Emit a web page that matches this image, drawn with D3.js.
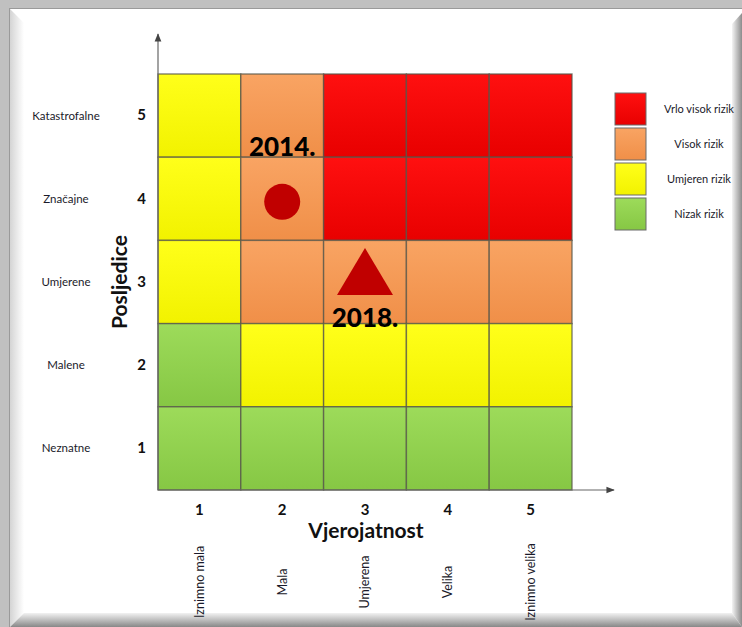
<!DOCTYPE html>
<html>
<head>
<meta charset="utf-8">
<script src="https://cdn.jsdelivr.net/npm/d3@7"></script>
<style>
  html, body { margin: 0; padding: 0; background: #c0c0c0; }
  svg { display: block; }
</style>
</head>
<body>
<main></main>
<script>
const W = 742, H = 627;
const FONT = "Lato, 'Open Sans', sans-serif";

// Data
const probabilities = [1, 2, 3, 4, 5];
const probLabels = ["Iznimno mala", "Mala", "Umjerena", "Velika", "Iznimno velika"];
const consequences = [5, 4, 3, 2, 1];
const consLabels = ["Katastrofalne", "Značajne", "Umjerene", "Malene", "Neznatne"];
// risk level per row (consequence 5 -> 1), per column (probability 1 -> 5)
// 0 = nizak, 1 = umjeren, 2 = visok, 3 = vrlo visok
const riskRows = [
  [1, 2, 3, 3, 3],
  [1, 2, 3, 3, 3],
  [1, 2, 2, 2, 2],
  [0, 1, 1, 1, 1],
  [0, 0, 0, 0, 0]
];
const legendLabels = ["Vrlo visok rizik", "Visok rizik", "Umjeren rizik", "Nizak rizik"];
const legendLevels = [3, 2, 1, 0];
const years = ["2014.", "2018."];
const yearProb = [2, 3];
const yearCons = [4, 3];
const yearShape = ["circle", "triangle"];

const levelColors = [
  ["#9ddb5a", "#86c744"],
  ["#ffff1a", "#f2f200"],
  ["#f9a463", "#f08f48"],
  ["#ff1010", "#e80000"]
];

const svg = d3.create("svg").attr("width", W).attr("height", H);
const defs = svg.append("defs");

levelColors.forEach((c, i) => {
  const g = defs.append("linearGradient").attr("id", "lv" + i)
    .attr("x1", 0).attr("y1", 0).attr("x2", 0).attr("y2", 1);
  g.append("stop").attr("offset", 0).attr("stop-color", c[0]);
  g.append("stop").attr("offset", 1).attr("stop-color", c[1]);
});

function grad(id, x2, y2, c0, c1) {
  const g = defs.append("linearGradient").attr("id", id)
    .attr("x1", 0).attr("y1", 0).attr("x2", x2).attr("y2", y2);
  g.append("stop").attr("offset", 0).attr("stop-color", c0);
  g.append("stop").attr("offset", 1).attr("stop-color", c1);
}
grad("bevL", 1, 0, "#d4d4d4", "#ffffff");
grad("bevR", 1, 0, "#f4f4f4", "#8c8c8c");
grad("bevB", 0, 1, "#f2f2f2", "#888888");

defs.append("marker")
  .attr("id", "arrow")
  .attr("viewBox", "0 0 10 10")
  .attr("refX", 9).attr("refY", 5)
  .attr("markerWidth", 7).attr("markerHeight", 7)
  .attr("orient", "auto")
  .append("path")
  .attr("d", "M0,1 L10,5 L0,9 Z")
  .attr("fill", "#444");

// frame
svg.append("rect").attr("width", W).attr("height", H).attr("fill", "#c0c0c0");
svg.append("rect").attr("x", 9.5).attr("y", 8.5).attr("width", W).attr("height", H)
  .attr("fill", "#fff").attr("stroke", "#9a9a9a");
svg.append("path").attr("d", "M10,9 L24,23 L24,613 L10,627 Z").attr("fill", "url(#bevL)");
svg.append("path").attr("d", "M742,13 L732,24 L732,613 L742,627 Z").attr("fill", "url(#bevR)");
svg.append("path").attr("d", "M10,627 L24,613 L732,613 L742,627 Z").attr("fill", "url(#bevB)");

// scales
const x = d3.scaleBand().domain(probabilities).range([158, 572]);
const y = d3.scaleBand().domain(consequences).range([74, 490]);

// cells
const cells = [];
riskRows.forEach((row, ri) => row.forEach((lv, ci) => {
  cells.push({ p: probabilities[ci], c: consequences[ri], lv });
}));

svg.append("g").selectAll("rect").data(cells).join("rect")
  .attr("x", d => x(d.p)).attr("y", d => y(d.c))
  .attr("width", x.bandwidth()).attr("height", y.bandwidth())
  .attr("fill", d => "url(#lv" + d.lv + ")")
  .attr("stroke", "#55554a").attr("stroke-opacity", 0.75).attr("stroke-width", 1.4);

// axis arrows
svg.append("line").attr("x1", 158).attr("y1", 490).attr("x2", 158).attr("y2", 34)
  .attr("stroke", "#666").attr("stroke-width", 1.2).attr("marker-end", "url(#arrow)");
svg.append("line").attr("x1", 158).attr("y1", 490).attr("x2", 614).attr("y2", 490)
  .attr("stroke", "#666").attr("stroke-width", 1.2).attr("marker-end", "url(#arrow)");

// axis numbers
const xAxis = svg.append("g").attr("transform", "translate(0,498)")
  .call(d3.axisBottom(x).tickSize(0).tickPadding(6));
xAxis.select(".domain").remove();
xAxis.selectAll("text").attr("font-family", FONT).attr("font-size", 15)
  .attr("font-weight", "bold").attr("fill", "#111");

const yAxis = svg.append("g").attr("transform", "translate(146,0)")
  .call(d3.axisLeft(y).tickSize(0).tickPadding(0));
yAxis.select(".domain").remove();
yAxis.selectAll("text").attr("font-family", FONT).attr("font-size", 15)
  .attr("font-weight", "bold").attr("fill", "#111");

// category labels
svg.append("g").selectAll("text").data(consLabels).join("text")
  .attr("x", 66).attr("y", (d, i) => y(consequences[i]) + y.bandwidth() / 2)
  .attr("dy", "0.35em").attr("text-anchor", "middle")
  .attr("font-family", FONT).attr("font-size", 11.5).attr("fill", "#1a1a2a")
  .text(d => d);

svg.append("g").selectAll("text").data(probLabels).join("text")
  .attr("transform", (d, i) =>
    `translate(${x(probabilities[i]) + x.bandwidth() / 2},582) rotate(-90)`)
  .attr("dy", "0.35em").attr("text-anchor", "middle")
  .attr("font-family", FONT).attr("font-size", 12.5).attr("fill", "#1a1a2a")
  .text(d => d);

// axis titles
svg.append("text").attr("x", 366).attr("y", 538).attr("text-anchor", "middle")
  .attr("font-family", FONT).attr("font-size", 21).attr("font-weight", "bold")
  .attr("fill", "#111").text("Vjerojatnost");
svg.append("text").attr("transform", "translate(127,282) rotate(-90)")
  .attr("text-anchor", "middle")
  .attr("font-family", FONT).attr("font-size", 21).attr("font-weight", "bold")
  .attr("fill", "#111").text("Posljedice");

// markers
const marks = years.map((yr, i) => ({
  yr, p: yearProb[i], c: yearCons[i], shape: yearShape[i]
}));
const mg = svg.append("g").selectAll("g").data(marks).join("g")
  .attr("transform", d =>
    `translate(${x(d.p) + x.bandwidth() / 2},${y(d.c) + y.bandwidth() / 2})`);

mg.filter(d => d.shape === "circle").append("circle")
  .attr("cy", 3).attr("r", 18).attr("fill", "#c00000");
mg.filter(d => d.shape === "circle").append("text")
  .attr("y", -43).attr("text-anchor", "middle")
  .attr("font-family", FONT).attr("font-size", 26).attr("font-weight", "900")
  .attr("fill", "#000").text(d => d.yr);

mg.filter(d => d.shape === "triangle").append("path")
  .attr("d", "M0,-34 L28,13 L-28,13 Z").attr("fill", "#c00000");
mg.filter(d => d.shape === "triangle").append("text")
  .attr("y", 45).attr("text-anchor", "middle")
  .attr("font-family", FONT).attr("font-size", 26).attr("font-weight", "900")
  .attr("fill", "#000").text(d => d.yr);

// legend
const lg = svg.append("g").selectAll("g").data(legendLabels).join("g")
  .attr("transform", (d, i) => `translate(615,${93 + i * 35})`);
lg.append("rect").attr("width", 31).attr("height", 32)
  .attr("fill", (d, i) => "url(#lv" + legendLevels[i] + ")")
  .attr("stroke", "#6a6a6a").attr("stroke-width", 1);
lg.append("text").attr("x", 84).attr("y", 16).attr("dy", "0.35em")
  .attr("text-anchor", "middle")
  .attr("font-family", FONT).attr("font-size", 11).attr("fill", "#1a1a2a")
  .text(d => d);

document.querySelector("main").append(svg.node());
</script>
</body>
</html>
